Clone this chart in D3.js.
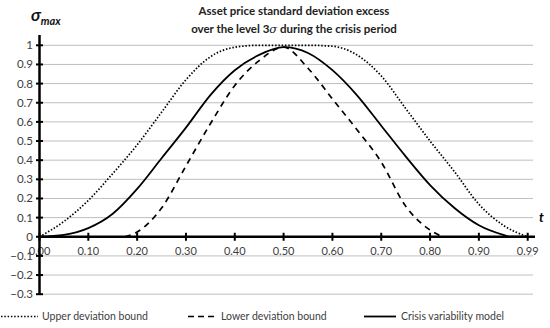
<!DOCTYPE html>
<html>
<head>
<meta charset="utf-8">
<script src="https://cdn.jsdelivr.net/npm/d3@7"></script>
<style>
  body { margin: 0; background: #fff; }
  svg text { font-family: Lato, "Open Sans", sans-serif; }
</style>
</head>
<body>
<div id="chart"></div>
<script>
// Posições no eixo t (0.99 fica na última marca, como no original)
const tLabels = ["0.00", "0.10", "0.20", "0.30", "0.40", "0.50", "0.60", "0.70", "0.80", "0.90", "0.99"];
const yTicks = [1, 0.9, 0.8, 0.7, 0.6, 0.5, 0.4, 0.3, 0.2, 0.1, 0, -0.1, -0.2, -0.3];

// Limite superior (pontilhado)
const upperT = [0, 0.05, 0.10, 0.15, 0.20, 0.25, 0.30, 0.35, 0.40, 0.45, 0.50, 0.55, 0.60, 0.65, 0.70, 0.75, 0.80, 0.85, 0.90, 0.95, 1.00];
const upperV = [0, 0.08, 0.19, 0.33, 0.48, 0.65, 0.82, 0.94, 0.99, 1.0, 1.0, 1.0, 0.995, 0.95, 0.84, 0.67, 0.50, 0.34, 0.17, 0.06, 0];

// Modelo de variabilidade da crise (linha contínua)
const modelT = [0, 0.05, 0.10, 0.15, 0.20, 0.25, 0.30, 0.35, 0.40, 0.45, 0.50, 0.55, 0.60, 0.65, 0.70, 0.75, 0.80, 0.85, 0.90, 0.95, 0.965, 1.00];
const modelV = [0, 0.01, 0.045, 0.12, 0.25, 0.41, 0.57, 0.74, 0.87, 0.95, 0.99, 0.96, 0.87, 0.74, 0.58, 0.42, 0.27, 0.15, 0.06, 0.01, 0, 0];

// Limite inferior (tracejado)
const lowerT = [0.175, 0.20, 0.25, 0.30, 0.35, 0.40, 0.45, 0.50, 0.55, 0.60, 0.65, 0.70, 0.75, 0.80, 0.825];
const lowerV = [0, 0.025, 0.15, 0.37, 0.59, 0.79, 0.92, 0.99, 0.88, 0.72, 0.56, 0.39, 0.16, 0.035, 0];

const width = 550, height = 328;
const x = d3.scaleLinear().domain([0, 1]).range([39.5, 527.7]);
const y = d3.scaleLinear().domain([-0.3, 1]).range([294.2, 45.3]);

const svg = d3.select("#chart").append("svg")
    .attr("width", width)
    .attr("height", height);

// Linhas de grade
svg.selectAll(".grid")
    .data(yTicks.filter(d => d !== 0))
    .enter().append("line")
    .attr("x1", x(0)).attr("x2", 533)
    .attr("y1", d => y(d)).attr("y2", d => y(d))
    .attr("stroke", "#bfbfbf").attr("stroke-width", 1);

// Rótulos do eixo y
svg.selectAll(".ylab")
    .data(yTicks)
    .enter().append("text")
    .attr("x", 33).attr("y", d => y(d))
    .attr("dy", "0.35em")
    .attr("text-anchor", "end")
    .style("font-size", "11.5px")
    .attr("fill", "#404040")
    .text(d => d3.format("")(+d.toFixed(1)));

// Rótulos do eixo x
svg.selectAll(".xlab")
    .data(tLabels)
    .enter().append("text")
    .attr("x", (d, i) => x(i / 10))
    .attr("y", 251)
    .attr("dy", "0.35em")
    .attr("text-anchor", "middle")
    .style("font-size", "11px")
    .attr("fill", "#404040")
    .text(d => d);

// Curvas
const line = (ts, vs) => d3.line()
    .x(i => x(ts[i]))
    .y(i => y(vs[i]))
    .curve(d3.curveMonotoneX)(d3.range(ts.length));

svg.append("path")
    .attr("d", line(upperT, upperV))
    .attr("fill", "none").attr("stroke", "#000")
    .attr("stroke-width", 1.7).attr("stroke-dasharray", "1.5,1.8");

svg.append("path")
    .attr("d", line(lowerT, lowerV))
    .attr("fill", "none").attr("stroke", "#000")
    .attr("stroke-width", 1.7).attr("stroke-dasharray", "6,5");

svg.append("path")
    .attr("d", line(modelT, modelV))
    .attr("fill", "none").attr("stroke", "#000")
    .attr("stroke-width", 1.8);

// Eixos
svg.append("line")
    .attr("x1", x(0)).attr("x2", x(0))
    .attr("y1", 35).attr("y2", y(-0.3))
    .attr("stroke", "#000").attr("stroke-width", 2.5);
svg.append("line")
    .attr("x1", x(0)).attr("x2", 535)
    .attr("y1", y(0)).attr("y2", y(0))
    .attr("stroke", "#000").attr("stroke-width", 2.5);

svg.selectAll(".ytick")
    .data(yTicks)
    .enter().append("line")
    .attr("x1", x(0) - 3.5).attr("x2", x(0) + 3.5)
    .attr("y1", d => y(d)).attr("y2", d => y(d))
    .attr("stroke", "#000").attr("stroke-width", 2);

svg.selectAll(".xtick")
    .data(tLabels)
    .enter().append("line")
    .attr("x1", (d, i) => x(i / 10)).attr("x2", (d, i) => x(i / 10))
    .attr("y1", y(0) - 4).attr("y2", y(0) + 4)
    .attr("stroke", "#000").attr("stroke-width", 2);

// Título
const title = svg.append("text")
    .attr("text-anchor", "middle")
    .style("font-size", "11.5px")
    .style("font-weight", "bold")
    .attr("fill", "#222");
title.append("tspan").attr("x", 294).attr("y", 15).text("Asset price standard deviation excess");
const t2 = title.append("tspan").attr("x", 294).attr("y", 33);
t2.append("tspan").text("over the level 3");
t2.append("tspan").style("font-style", "italic").style("font-weight", "normal")
    .style("font-family", "DejaVu Serif").text("σ");
t2.append("tspan").text(" during the crisis period");

// Título do eixo y
const ylab = svg.append("text")
    .attr("x", 31).attr("y", 21)
    .style("font-weight", "bold").style("font-style", "italic")
    .attr("fill", "#111");
ylab.append("tspan").style("font-size", "17px").text("σ");
ylab.append("tspan").attr("dy", 4).style("font-size", "11px").text("max");

svg.append("text")
    .attr("x", 539).attr("y", 222)
    .style("font-weight", "bold").style("font-style", "italic")
    .style("font-size", "13px")
    .text("t");

// Legenda
const legend = [
    { name: "Upper deviation bound", x1: 1, x2: 38, tx: 42, dash: "1.5,1.8", w: 1.7 },
    { name: "Lower deviation bound", x1: 188, x2: 218, tx: 221, dash: "6,4", w: 1.7 },
    { name: "Crisis variability model", x1: 364, x2: 396, tx: 401, dash: null, w: 1.8 }
];
const lg = svg.selectAll(".leg").data(legend).enter().append("g");
lg.append("line")
    .attr("x1", d => d.x1).attr("x2", d => d.x2)
    .attr("y1", 316.5).attr("y2", 316.5)
    .attr("stroke", "#000").attr("stroke-width", d => d.w)
    .attr("stroke-dasharray", d => d.dash);
lg.append("text")
    .attr("x", d => d.tx).attr("y", 316.5)
    .attr("dy", "0.35em")
    .style("font-size", "10.5px")
    .attr("fill", "#404040")
    .text(d => d.name);
</script>
</body>
</html>
